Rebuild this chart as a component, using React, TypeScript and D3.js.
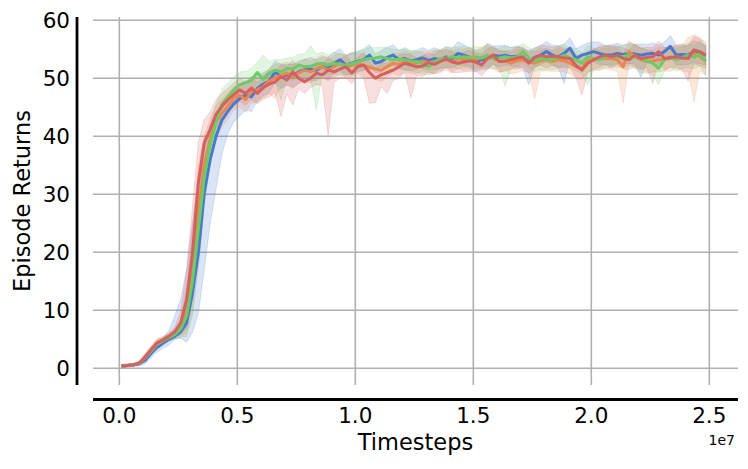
import React from "react";
import * as d3 from "d3";

const W = 748;
const H = 469;

// x grid: 100 evaluation points (timesteps)
const timesteps: number[] = d3.range(100).map((i) => 1e5 + i * 2.5e5);

const xTicks = [0, 0.5e7, 1.0e7, 1.5e7, 2.0e7, 2.5e7];
const xTickLabels = ["0.0", "0.5", "1.0", "1.5", "2.0", "2.5"];
const yTicks = [0, 10, 20, 30, 40, 50, 60];
const yTickLabels = ["0", "10", "20", "30", "40", "50", "60"];

const seriesNames = ["blue", "orange", "green", "red"];
const seriesColors = ["#4878d0", "#ee854a", "#6acc64", "#d65f5f"];

const blueMean = [
  0.4, 0.5, 0.6, 0.8, 1.4, 2.6, 3.6, 4.3, 5.0, 5.5,
  6.3, 7.8, 13.0, 19.9, 30.3, 36.0, 40.0, 42.8, 44.3, 45.6,
  46.5, 47.1, 46.8, 48.3, 49.0, 49.5, 51.1, 50.3, 50.6, 50.4,
  51.1, 51.5, 51.6, 51.4, 52.0, 51.7, 52.6, 53.2, 52.3, 52.6,
  52.9, 53.2, 54.0, 52.6, 52.9, 53.6, 54.0, 53.2, 53.4, 53.0,
  53.2, 53.5, 53.1, 53.4, 53.2, 53.7, 53.4, 54.3, 54.0, 53.6,
  52.9, 53.2, 53.4, 54.0, 53.8, 54.0, 53.7, 53.8, 53.4, 52.9,
  53.6, 54.0, 54.6, 54.0, 53.7, 54.3, 55.2, 53.4, 54.0, 54.3,
  54.6, 54.3, 54.0, 54.0, 54.3, 54.1, 54.3, 54.2, 54.0, 54.2,
  54.3, 54.0, 54.6, 55.5, 54.0, 54.1, 54.0, 54.6, 54.3, 54.0,
];
const orangeMean = [
  0.4, 0.5, 0.6, 0.9, 1.8, 3.0, 4.1, 4.7, 5.3, 6.0,
  7.0, 10.0, 17.0, 27.0, 35.0, 39.5, 42.5, 44.0, 45.2, 46.5,
  47.1, 46.3, 47.7, 48.0, 48.6, 49.5, 50.1, 50.5, 50.9, 50.3,
  50.9, 51.4, 51.1, 51.7, 52.0, 51.4, 52.0, 52.6, 52.0, 52.3,
  52.6, 52.2, 51.9, 51.6, 51.4, 52.0, 52.6, 52.4, 52.9, 52.6,
  52.6, 53.0, 52.7, 52.9, 53.0, 53.2, 52.9, 53.4, 53.2, 53.4,
  53.2, 53.6, 53.7, 53.4, 52.9, 53.0, 52.6, 53.0, 53.2, 52.8,
  52.6, 53.0, 53.2, 52.9, 53.2, 53.0, 52.6, 52.0, 51.7, 53.0,
  53.2, 53.4, 53.4, 53.4, 53.2, 52.0, 54.6, 53.7, 53.2, 52.9,
  53.0, 53.2, 53.3, 53.4, 53.7, 53.5, 53.7, 54.3, 53.8, 52.9,
];
const greenMean = [
  0.4, 0.5, 0.6, 0.9, 1.9, 3.0, 4.2, 4.8, 5.3, 5.8,
  6.8, 9.0, 15.0, 24.0, 33.0, 38.5, 42.5, 45.5, 46.8, 48.0,
  48.9, 49.2, 49.7, 51.0, 49.8, 50.9, 51.4, 51.1, 51.7, 51.6,
  52.3, 52.0, 52.1, 52.4, 52.6, 52.3, 52.6, 52.4, 52.3, 52.5,
  52.8, 53.2, 53.4, 53.5, 53.7, 53.4, 53.2, 53.3, 53.2, 53.0,
  52.9, 52.5, 52.0, 52.8, 53.4, 53.5, 53.7, 53.5, 53.7, 53.6,
  53.7, 53.5, 54.0, 53.4, 53.5, 53.7, 53.5, 53.7, 54.6, 53.5,
  52.9, 53.4, 53.3, 53.2, 53.6, 54.0, 53.5, 53.2, 52.6, 53.7,
  53.4, 53.2, 53.7, 53.7, 53.6, 53.8, 54.0, 53.7, 53.4, 53.0,
  52.6, 51.7, 53.2, 53.7, 53.2, 53.6, 54.0, 53.6, 54.3, 52.9,
];
const redMean = [
  0.4, 0.5, 0.6, 0.9, 2.0, 3.2, 4.4, 4.9, 5.5, 6.3,
  7.8, 11.8, 19.9, 32.0, 38.9, 41.2, 43.8, 45.2, 46.3, 47.2,
  48.0, 47.4, 48.3, 47.4, 48.4, 49.0, 49.4, 50.3, 49.7, 51.1,
  50.0, 49.4, 50.0, 50.9, 50.6, 51.4, 51.1, 51.6, 52.0, 50.9,
  52.0, 52.3, 51.0, 50.0, 50.6, 51.0, 51.4, 52.0, 52.6, 52.3,
  52.0, 52.1, 52.7, 52.4, 52.9, 53.4, 52.8, 52.6, 52.8, 53.0,
  52.8, 52.3, 53.4, 54.0, 52.9, 53.0, 53.2, 53.5, 53.7, 52.6,
  53.5, 54.0, 53.7, 53.8, 53.7, 53.5, 53.4, 52.2, 51.4, 52.6,
  53.2, 53.7, 54.0, 53.7, 54.0, 53.4, 53.2, 54.0, 53.4, 53.6,
  53.7, 54.6, 53.4, 53.6, 53.7, 53.5, 53.4, 54.9, 54.6, 54.0,
];

// half-widths of the confidence bands
const blueSpread = [
  0.3, 0.3, 0.3, 0.4, 0.6, 0.8, 0.8, 0.8, 1.0, 2.5,
  3, 5, 8, 10, 10, 6, 5, 4.5, 3.5, 3,
  3, 2.5, 2.5, 2.2, 2, 2, 1.9, 2.1, 1.8, 2,
  1.9, 1.7, 2, 1.8, 1.6, 2, 1.8, 1.9, 1.7, 1.8,
  1.7, 1.9, 1.8, 1.6, 1.9, 1.7, 1.8, 1.6, 1.9, 1.7,
  1.6, 1.8, 1.7, 1.9, 1.6, 1.8, 1.7, 2, 1.8, 1.6,
  1.8, 1.7, 1.9, 1.6, 1.8, 1.7, 1.6, 1.8, 1.7, 1.9,
  1.7, 1.6, 1.8, 1.7, 1.9, 1.6, 1.8, 1.7, 1.6, 1.8,
  1.7, 1.9, 1.6, 1.8, 1.7, 1.6, 1.8, 1.7, 1.9, 1.6,
  1.8, 1.7, 1.6, 1.9, 1.7, 1.8, 1.6, 1.9, 1.8, 1.7,
];
const orangeSpread = [
  0.2, 0.2, 0.2, 0.3, 0.6, 0.7, 0.7, 0.6, 0.6, 0.8,
  1.5, 4, 7, 8, 5, 3.5, 2.8, 2.4, 2.2, 2,
  2, 2.2, 2, 2.1, 2, 2.2, 2.3, 2, 1.9, 2.1,
  1.8, 2, 1.9, 1.7, 2, 1.8, 1.9, 1.7, 1.8, 2,
  1.7, 1.9, 1.8, 1.7, 2, 1.8, 1.7, 1.9, 1.8, 1.7,
  1.9, 1.7, 1.8, 2, 1.7, 1.8, 1.9, 1.7, 1.8, 1.9,
  1.7, 1.8, 2, 1.8, 1.9, 1.7, 1.8, 2, 1.9, 1.8,
  2, 1.8, 1.9, 1.7, 2, 1.9, 1.8, 2, 1.9, 1.8,
  1.9, 2, 1.8, 1.9, 2, 2.1, 1.9, 2, 2.2, 2,
  1.9, 2.1, 2, 2.2, 2, 2.3, 2.5, 2.8, 2.6, 2.4,
];
const greenSpread = [
  0.2, 0.2, 0.2, 0.3, 0.6, 0.7, 0.7, 0.6, 0.6, 0.8,
  1.5, 3.5, 6, 7, 5, 3.5, 3, 2.6, 2.4, 2.2,
  2.2, 2, 2, 1.8, 2, 2, 1.9, 2.1, 1.8, 2,
  1.9, 2.2, 2, 1.8, 1.9, 1.7, 1.9, 1.8, 1.7, 1.9,
  1.8, 1.7, 1.9, 1.8, 1.7, 1.9, 1.8, 1.6, 1.8, 1.7,
  1.9, 1.8, 1.7, 1.9, 1.6, 1.8, 1.7, 1.9, 1.8, 1.7,
  1.8, 1.7, 1.9, 1.8, 1.7, 1.9, 1.8, 1.7, 1.9, 1.8,
  1.7, 1.9, 1.8, 1.7, 1.9, 1.8, 1.7, 1.9, 1.8, 1.9,
  1.8, 1.7, 1.9, 1.8, 1.7, 1.9, 1.8, 2, 1.8, 1.9,
  2, 1.9, 2, 1.8, 2, 1.9, 2.1, 2, 2.2, 2.3,
];
const redSpread = [
  0.2, 0.2, 0.2, 0.3, 0.6, 0.7, 0.7, 0.6, 0.6, 0.8,
  2, 5, 8, 7, 4, 3, 2.5, 2.2, 2, 2,
  2, 2, 2, 1.8, 2, 2.2, 1.8, 2, 2.4, 2,
  1.8, 2, 1.6, 2, 1.8, 2.2, 1.8, 1.6, 2, 1.8,
  1.6, 2.2, 2, 1.8, 2, 1.6, 1.8, 2, 1.6, 1.8,
  1.5, 1.8, 1.6, 1.7, 1.9, 1.5, 1.8, 1.6, 1.7, 1.8,
  1.6, 1.9, 1.7, 1.5, 1.8, 1.7, 1.6, 1.9, 1.7, 1.8,
  1.6, 1.7, 1.9, 1.6, 1.8, 1.7, 1.6, 2, 1.8, 1.7,
  1.6, 1.8, 1.7, 1.9, 1.6, 1.8, 1.7, 1.9, 1.8, 1.7,
  1.6, 1.8, 1.9, 1.7, 1.8, 2, 2.2, 2.4, 2.5, 2.2,
];

// explicit band bounds where the band is asymmetric: [index, value]
const blueLowerAt = [
  [9, 5.0], [10, 5.2], [11, 4.5], [12, 6.2], [13, 9.5], [14, 17], [15, 25], [16, 31],
  [17, 37], [18, 40.5], [19, 42.5], [20, 43.5], [21, 44.5], [69, 48.9], [75, 49.1], [88, 50.2],
];
const blueUpperAt = [
  [8, 6.5], [9, 9], [10, 12], [11, 17], [12, 25], [13, 32], [14, 38], [15, 41], [16, 43.5],
  [17, 45.5], [18, 47], [19, 48], [20, 49], [42, 55.8], [57, 56.3], [62, 56],
];
const orangeLowerAt = [[26, 46.5], [70, 46.5], [85, 45.7], [97, 46.0]];
const orangeUpperAt = [[96, 57.0], [97, 57.5], [98, 57.0]];
const greenLowerAt = [[27, 46.3], [33, 44.5], [52, 50.6], [65, 48.6], [79, 48.8], [91, 48.9]];
const greenUpperAt = [[24, 54.0], [32, 55.6], [68, 56.0]];
const redLowerAt = [
  [27, 43.4], [29, 45.4], [35, 40.2], [42, 45.7], [43, 45.8], [45, 47.4], [49, 46.6],
  [78, 47.1], [90, 49.1], [96, 49.5],
];
const redUpperAt = [[97, 57.2], [98, 56.8]];

const means = [blueMean, orangeMean, greenMean, redMean];
const spreads = [blueSpread, orangeSpread, greenSpread, redSpread];
const lowers = [blueLowerAt, orangeLowerAt, greenLowerAt, redLowerAt];
const uppers = [blueUpperAt, orangeUpperAt, greenUpperAt, redUpperAt];

type Pt = { t: number; m: number; lo: number; hi: number };

const series = seriesNames.map((name, s) => {
  const lo = new Map<number, number>(lowers[s].map((p) => [p[0], p[1]] as [number, number]));
  const hi = new Map<number, number>(uppers[s].map((p) => [p[0], p[1]] as [number, number]));
  const pts: Pt[] = timesteps.map((t, i) => ({
    t,
    m: means[s][i],
    lo: lo.has(i) ? (lo.get(i) as number) : means[s][i] - spreads[s][i],
    hi: hi.has(i) ? (hi.get(i) as number) : means[s][i] + spreads[s][i],
  }));
  return { name, color: seriesColors[s], pts };
});

const FONT = "DejaVu Sans, sans-serif";

export default function App() {
  const plotLeft = 93;
  const plotRight = 738;
  const plotTop = 17;
  const plotBottom = 385;

  const x = d3.scaleLinear().domain([0, 2.5e7]).range([119.3, 709.3]);
  const y = d3.scaleLinear().domain([0, 60]).range([368.3, 20.3]);

  const area = d3
    .area<Pt>()
    .x((d) => x(d.t))
    .y0((d) => y(d.lo))
    .y1((d) => y(d.hi));
  const line = d3
    .line<Pt>()
    .x((d) => x(d.t))
    .y((d) => y(d.m));

  return (
    <svg
      width={W}
      height={H}
      viewBox={`0 0 ${W} ${H}`}
      style={{ position: "absolute", left: 0, top: 0, background: "#fff" }}
    >
      <rect x={0} y={0} width={W} height={H} fill="#fff" />
      {/* grid */}
      <g stroke="#b0b0b0" strokeWidth={1.6}>
        {yTicks.map((v) => (
          <line key={"gy" + v} x1={plotLeft} x2={plotRight} y1={y(v)} y2={y(v)} />
        ))}
        {xTicks.map((v) => (
          <line key={"gx" + v} x1={x(v)} x2={x(v)} y1={plotTop} y2={plotBottom} />
        ))}
      </g>
      {/* bands */}
      <g>
        {series.map((s) => (
          <path
            key={"b" + s.name}
            d={area(s.pts) || ""}
            fill={s.color}
            fillOpacity={0.2}
            stroke={s.color}
            strokeOpacity={0.2}
            strokeWidth={1}
          />
        ))}
      </g>
      {/* lines */}
      <g>
        {series.map((s) => (
          <path
            key={"l" + s.name}
            d={line(s.pts) || ""}
            fill="none"
            stroke={s.color}
            strokeWidth={3}
            strokeLinejoin="round"
            strokeLinecap="butt"
          />
        ))}
      </g>
      {/* spines */}
      <line x1={77} x2={77} y1={plotTop} y2={plotBottom} stroke="#000" strokeWidth={2.8} />
      <line x1={plotLeft} x2={plotRight} y1={399.5} y2={399.5} stroke="#000" strokeWidth={2.8} />
      {/* tick labels */}
      <g fontFamily={FONT} fontSize={21.5} fill="#000">
        {yTicks.map((v, i) => (
          <text key={"yt" + v} x={70} y={y(v)} textAnchor="end" dominantBaseline="central">
            {yTickLabels[i]}
          </text>
        ))}
        {xTicks.map((v, i) => (
          <text key={"xt" + v} x={x(v)} y={423} textAnchor="middle">
            {xTickLabels[i]}
          </text>
        ))}
      </g>
      <text x={735} y={445} textAnchor="end" fontFamily={FONT} fontSize={14}>
        1e7
      </text>
      <text x={(plotLeft + plotRight) / 2} y={450} textAnchor="middle" fontFamily={FONT} fontSize={22.5}>
        Timesteps
      </text>
      <text
        transform={`translate(30, ${(plotTop + plotBottom) / 2}) rotate(-90)`}
        textAnchor="middle"
        fontFamily={FONT}
        fontSize={22.5}
      >
        Episode Returns
      </text>
    </svg>
  );
}
